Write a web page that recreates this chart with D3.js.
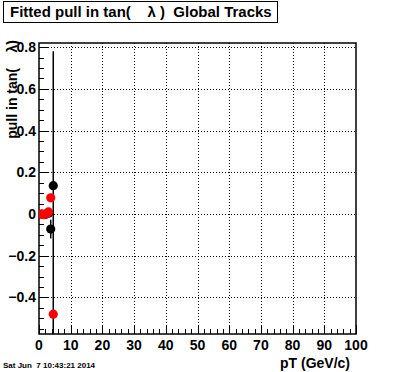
<!DOCTYPE html>
<html><head><meta charset="utf-8">
<script src="https://cdn.jsdelivr.net/npm/d3@7"></script>
<style>body{margin:0;background:#fff}svg{display:block}text{font-family:"Liberation Sans",Arial,sans-serif}</style>
</head><body>
<script>
const title = "Fitted pull in tan(    \u03bb )  Global Tracks";
const xLabel = "pT (GeV/c)";
const yLabel = "pull in tan(    \u03bb)";
const dateText = "Sat Jun  7 10:43:21 2014";
const xTicks = [0,10,20,30,40,50,60,70,80,90,100];
const yTicks = [-0.4,-0.2,0,0.2,0.4,0.6,0.8];
// red series (pT, pull, error)
const redPt = [0.6, 1.5, 2.4, 3.0, 3.7, 4.5];
const redVal = [0.0, -0.003, 0.002, 0.01, 0.078, -0.48];
const redErr = [0.01, 0.01, 0.01, 0.01, 0.01, 1.26];
// black series
const blackPt = [1.0, 2.0, 3.0, 3.7, 4.5];
const blackVal = [0.0, -0.002, 0.004, -0.072, 0.136];
const blackErr = [0.01, 0.01, 0.01, 0.045, 0.02];

const W = 396, H = 372;
const L = 39, R = 356, T = 43, B = 334;
const svg = d3.select("body").append("svg").attr("width", W).attr("height", H);
const x = d3.scaleLinear().domain([0,100]).range([L,R]);
const y = d3.scaleLinear().domain([-0.575,0.82]).range([B,T]);

// grid
const g = svg.append("g");
g.selectAll(".gx").data(xTicks.slice(1,-1)).join("line")
  .attr("x1", d=>Math.round(x(d))+0.5).attr("x2", d=>Math.round(x(d))+0.5).attr("y1", T).attr("y2", B)
  .attr("stroke","#000").attr("stroke-width",1).attr("stroke-dasharray","1,2");
g.selectAll(".gy").data(yTicks).join("line")
  .attr("x1", L).attr("x2", R).attr("y1", d=>Math.round(y(d))+0.5).attr("y2", d=>Math.round(y(d))+0.5)
  .attr("stroke","#000").attr("stroke-width",1).attr("stroke-dasharray","1,2");

// axes ticks inside
const xMinor = d3.range(0,100.001,2);
svg.append("g").selectAll("line").data(xMinor).join("line")
  .attr("x1", d=>Math.round(x(d))+0.5).attr("x2", d=>Math.round(x(d))+0.5)
  .attr("y1", B).attr("y2", d=> (Math.abs(d%10)<1e-6) ? B-9 : B-5)
  .attr("stroke","#000");
const yMinor = d3.range(-0.55,0.8001,0.05);
svg.append("g").selectAll("line").data(yMinor).join("line")
  .attr("x1", L).attr("x2", d=> (Math.abs(Math.round(d*100)%20)===0) ? L+9 : L+5)
  .attr("y1", d=>Math.round(y(d))+0.5).attr("y2", d=>Math.round(y(d))+0.5)
  .attr("stroke","#000");

// frame
svg.append("rect").attr("x",L).attr("y",T).attr("width",R-L).attr("height",B-T)
  .attr("fill","none").attr("stroke","#000").attr("stroke-width",1.5);

// tick labels
svg.append("g").selectAll("text").data(xTicks).join("text")
  .attr("x", d=>x(d)).attr("y", B+16).attr("text-anchor","middle")
  .attr("font-size",14).attr("font-weight","bold").text(d=>d);
svg.append("g").selectAll("text").data(yTicks).join("text")
  .attr("x", L-3).attr("y", d=>y(d)+5).attr("text-anchor","end")
  .attr("font-size",14).attr("font-weight","bold").text(d=>d===0?"0":d3.format("")(d));

// data
const plot = svg.append("g");
plot.append("clipPath").attr("id","clip").append("rect").attr("x",L).attr("y",T).attr("width",R-L).attr("height",B-T);
const dg = plot.append("g").attr("clip-path","url(#clip)");
function series(pts, vals, errs, color){
  const d = pts.map((p,i)=>({p, v:vals[i], e:errs[i]}));
  dg.append("g").selectAll("line").data(d).join("line")
    .attr("x1", d=>x(d.p)).attr("x2", d=>x(d.p))
    .attr("y1", d=>y(d.v-d.e)).attr("y2", d=>y(d.v+d.e))
    .attr("stroke","#000").attr("stroke-width",1.5);
  dg.append("g").selectAll("circle").data(d).join("circle")
    .attr("cx", d=>x(d.p)).attr("cy", d=>y(d.v)).attr("r",4.6).attr("fill",color);
}
series(blackPt, blackVal, blackErr, "#000");
series(redPt, redVal, redErr, "#ff0000");

// title box
svg.append("rect").attr("x",3.5).attr("y",1.5).attr("width",274).attr("height",21)
  .attr("fill","#fff").attr("stroke","#000").attr("stroke-width",1);
svg.append("text").attr("x",10).attr("y",17).attr("font-size",15).attr("font-weight","bold")
  .style("white-space","pre").text(title);

// axis labels
svg.append("text").attr("x",350).attr("y",368).attr("text-anchor","end")
  .attr("font-size",14).attr("font-weight","bold").text(xLabel);
svg.append("text").attr("transform","translate(17,40) rotate(-90)").attr("text-anchor","end")
  .attr("font-size",14).attr("font-weight","bold").style("white-space","pre").text(yLabel);
svg.append("text").attr("x",3).attr("y",368).attr("font-size",8).attr("font-weight","bold")
  .style("white-space","pre").text(dateText);
</script>
</body></html>
